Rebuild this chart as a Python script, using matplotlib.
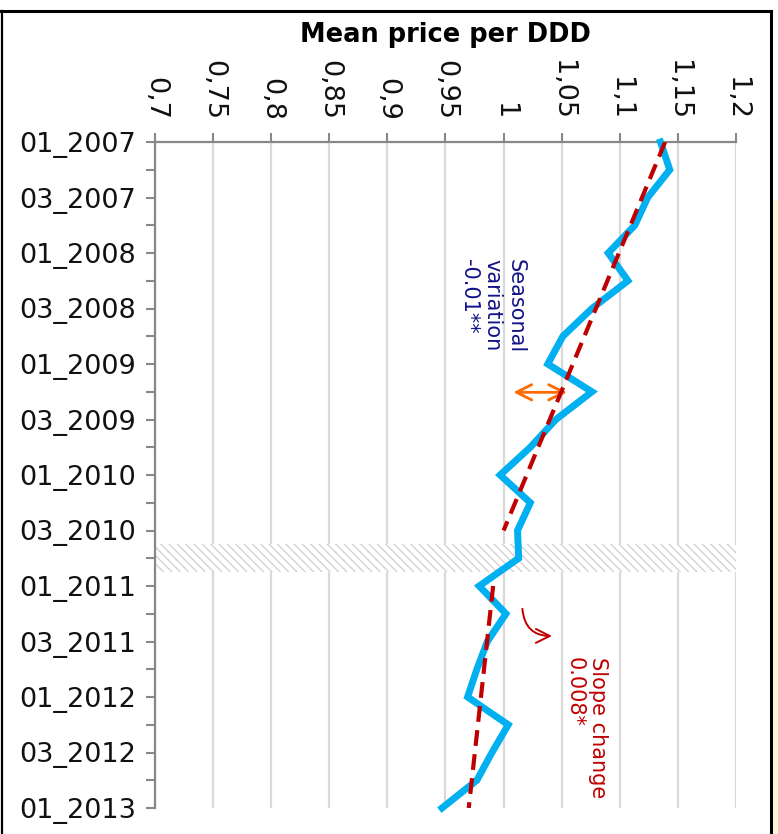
import numpy as np
import matplotlib.pyplot as plt
from matplotlib.lines import Line2D
from matplotlib.patches import Rectangle

# quarters, top to bottom
quarters = ['01_2007', '02_2007', '03_2007', '04_2007',
            '01_2008', '02_2008', '03_2008', '04_2008',
            '01_2009', '02_2009', '03_2009', '04_2009',
            '01_2010', '02_2010', '03_2010', '04_2010',
            '01_2011', '02_2011', '03_2011', '04_2011',
            '01_2012', '02_2012', '03_2012', '04_2012',
            '01_2013']

# mean price per DDD, one value per quarter
price = [1.135, 1.143, 1.124, 1.113, 1.090, 1.107, 1.076, 1.051, 1.038,
         1.076, 1.045, 1.023, 0.997, 1.023, 1.012, 1.013, 0.979, 1.002,
         0.986, 0.977, 0.969, 1.004, 0.990, 0.977, 0.947]

# fitted segments (before / after the intervention quarter)
pre_q = ['01_2007', '03_2010']
pre_fit = [1.139, 1.000]
post_q = ['01_2011', '01_2013']
post_fit = [0.991, 0.970]

intervention = '04_2010'

x_ticks = [0.7, 0.75, 0.8, 0.85, 0.9, 0.95, 1.0, 1.05, 1.1, 1.15, 1.2]
x_tick_labels = ['0,7', '0,75', '0,8', '0,85', '0,9', '0,95', '1', '1,05',
                 '1,1', '1,15', '1,2']

plt.rcParams['font.family'] = ['DejaVu Sans']
plt.rcParams['hatch.linewidth'] = 1.0

qi = {q: i for i, q in enumerate(quarters)}
y = np.arange(len(quarters))

fig = plt.figure(figsize=(7.78, 8.34), dpi=100)
ax = fig.add_axes([155 / 778, 1 - 808 / 834, (736 - 155) / 778, (808 - 142) / 834])

# hatched band at the intervention quarter
k = qi[intervention]
ax.axhspan(k - 0.5, k + 0.5, facecolor='white', edgecolor='#d3d3d3',
           hatch='\\\\\\\\', linewidth=0, zorder=1)

ax.plot(price, y, color='#00b0f0', lw=5, solid_joinstyle='miter', zorder=3,
        clip_on=False)
ax.plot(pre_fit, [qi[q] for q in pre_q], color='#c00000', lw=3,
        dashes=(3.8, 2.0), zorder=4)
ax.plot(post_fit, [qi[q] for q in post_q], color='#c00000', lw=3,
        dashes=(3.8, 2.0), zorder=4)

ax.set_xlim(0.7, 1.2)
ax.set_ylim(len(quarters) - 1, 0)

ax.xaxis.tick_top()
ax.set_xticks(x_ticks)
ax.set_xticklabels(x_tick_labels, rotation=-90, ha='center', va='bottom')
ax.set_yticks(y[::2])
ax.set_yticklabels(quarters[::2])
ax.set_yticks(y[1::2], minor=True)

ax.tick_params(axis='both', which='both', direction='out', length=6.5,
               width=1.5, color='#888888', labelsize=19.5, labelcolor='#111111')
ax.tick_params(axis='x', pad=9)
ax.tick_params(axis='y', pad=7)

ax.grid(axis='x', color='#d9d9d9', lw=1.6, zorder=0)
ax.set_axisbelow(True)
for s in ['right', 'bottom']:
    ax.spines[s].set_visible(False)
for s in ['left', 'top']:
    ax.spines[s].set_color('#888888')
    ax.spines[s].set_linewidth(1.6)

fig.text(445.5 / 778, 1 - 35 / 834, 'Mean price per DDD', fontsize=18.5,
         fontweight='bold', ha='center', va='center')

# annotations
ax.text(0.990, 4.2, 'Seasonal\nvariation\n-0.01**', color='#13138a',
        fontsize=15, rotation=-90, ha='center', va='top', multialignment='left')
ax.annotate('', xy=(1.006, 9.02), xytext=(1.057, 9.02),
            arrowprops=dict(arrowstyle='<->,head_length=1.1,head_width=0.55',
                            color='#ff6a00', lw=2))

ax.text(1.071, 18.55, 'Slope change\n0.008*', color='#c00000',
        fontsize=15, rotation=-90, ha='center', va='top', multialignment='left')
ax.annotate('', xy=(1.044, 17.8), xytext=(1.016, 16.72),
            arrowprops=dict(arrowstyle='->,head_length=1.0,head_width=0.5',
                            connectionstyle='arc3,rad=0.5',
                            color='#c00000', lw=1.4))

# outer frame
fig.add_artist(Line2D([0, 770.5 / 778], [1 - 11 / 834, 1 - 11 / 834],
                      transform=fig.transFigure, color='black', lw=2.2))
fig.add_artist(Line2D([1.5 / 778, 1.5 / 778], [0, 1 - 11 / 834],
                      transform=fig.transFigure, color='black', lw=1.6))
fig.add_artist(Line2D([770.5 / 778, 770.5 / 778], [0, 1 - 11 / 834],
                      transform=fig.transFigure, color='black', lw=2.2))
fig.patches.append(Rectangle((772.5 / 778, 0), 6 / 778, 1 - 200 / 834,
                             transform=fig.transFigure, facecolor='#fff5dc',
                             edgecolor='none'))

fig.savefig('out.png', dpi=100)
